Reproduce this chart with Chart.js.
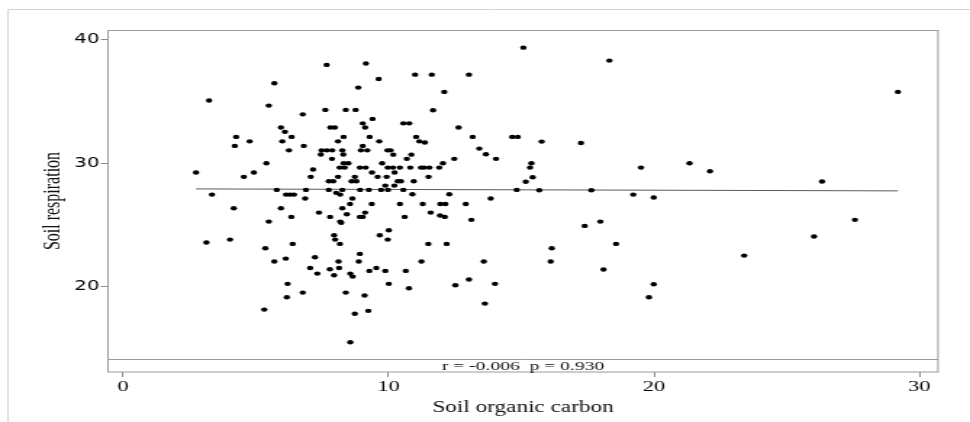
<!DOCTYPE html>
<html>
<head>
<meta charset="utf-8">
<script src="https://cdn.jsdelivr.net/npm/chart.js@4/dist/chart.umd.min.js"></script>
<style>
  html, body { margin: 0; padding: 0; background: #fff; overflow: hidden; }
  #wrap { position: absolute; left: 0; top: 0; width: 669px; height: 422px;
          transform: scaleX(1.45); transform-origin: 0 0; }
</style>
</head>
<body>
<div id="wrap"><canvas id="c" width="669" height="422"></canvas></div>
<script>
// ---- data ----
const socX = [
  7.67, 5.70, 3.24, 8.86, 5.49, 7.62, 8.39, 8.76, 6.77, 5.95, 6.10, 7.81, 7.98, 8.31, 4.26, 4.21,
  4.77, 6.00, 6.35, 8.10, 6.81, 6.25, 7.48, 7.67, 7.88, 8.26, 8.96, 7.45, 8.30, 7.87, 5.40, 8.31,
  8.49, 8.16, 8.35, 8.92, 2.75, 4.93, 7.16, 4.55, 7.07, 8.10, 8.73, 7.75, 7.92, 8.61, 8.79, 5.79,
  6.89, 7.75, 8.26, 8.93, 3.35, 6.14, 6.29, 6.44, 8.03, 8.18, 6.86, 8.64, 8.55, 4.17, 5.95, 8.26,
  7.38, 8.43, 6.34, 7.80, 8.92, 5.49, 8.18, 8.22, 7.95, 7.99, 8.17, 3.14, 4.03, 5.36, 6.39, 8.92,
  5.70, 6.13, 7.23, 8.12, 8.88, 7.05, 7.32, 7.79, 8.14, 7.95, 8.56, 8.65, 6.20, 6.77, 6.17, 8.39,
  5.32, 8.73, 8.56,
  9.15, 9.63, 11.00, 11.63, 13.03, 12.10, 11.68, 9.40, 9.03, 9.12, 10.56, 10.78, 12.64, 9.29, 13.17, 11.04,
  9.65, 11.16, 11.37, 9.03, 9.20, 9.96, 10.08, 10.18, 10.86, 10.69, 12.48, 12.05, 9.76, 9.14, 9.97, 10.17,
  10.43, 10.82, 11.22, 11.34, 11.54, 11.91, 9.38, 9.59, 9.93, 10.23, 11.51, 10.35, 10.47, 10.95, 9.88, 10.22,
  9.26, 9.72, 9.98, 10.56, 14.83, 10.90, 12.29, 13.85, 9.37, 10.43, 11.29, 11.95, 12.14, 12.91, 13.42, 13.67,
  14.05, 14.66, 14.87,
  9.12, 9.03, 10.61, 11.59, 11.94, 12.12, 13.12, 9.67, 10.01, 9.97, 11.50, 12.19, 11.24, 13.59, 9.28, 9.54,
  9.88, 10.65, 10.01, 10.77, 12.52, 13.03, 14.01, 13.63, 9.10, 9.24,
  15.08, 18.32, 29.19, 15.77, 17.25, 15.38, 15.33, 15.43, 15.17, 15.68, 17.64, 19.51, 21.34, 22.11, 26.33, 19.22,
  19.99, 17.39, 17.98, 18.57, 16.15, 16.11, 18.10, 19.99, 19.81, 23.40, 26.03, 27.57
];
const respY = [
  37.98, 36.49, 35.09, 36.14, 34.68, 34.33, 34.33, 34.33, 33.97, 32.90, 32.55, 32.90, 32.90, 32.14, 32.14, 31.41,
  31.78, 31.78, 32.14, 31.78, 31.41, 31.05, 31.05, 31.05, 31.05, 31.05, 31.05, 30.71, 30.71, 30.36, 30.00, 30.00,
  30.00, 29.65, 29.65, 29.65, 29.25, 29.25, 29.49, 28.90, 28.90, 28.90, 28.90, 28.54, 28.54, 28.54, 28.54, 27.84,
  27.84, 27.84, 27.84, 27.84, 27.46, 27.46, 27.46, 27.46, 27.60, 27.46, 27.14, 27.14, 26.70, 26.35, 26.35, 26.35,
  26.00, 25.86, 25.65, 25.65, 25.65, 25.27, 25.27, 25.17, 24.16, 23.81, 23.46, 23.57, 23.81, 23.11, 23.46, 22.65,
  22.03, 22.27, 22.38, 22.03, 22.03, 21.51, 21.05, 21.40, 21.51, 20.92, 21.05, 20.81, 20.22, 19.51, 19.13, 19.51,
  18.13, 17.79, 15.48,
  38.09, 36.84, 37.19, 37.19, 37.19, 35.79, 34.30, 33.60, 33.24, 32.90, 33.24, 33.24, 32.90, 32.14, 32.14, 32.14,
  31.78, 31.78, 31.68, 31.41, 31.05, 31.05, 31.05, 30.70, 30.70, 30.36, 30.36, 30.00, 30.00, 29.65, 29.65, 29.65,
  29.65, 29.65, 29.65, 29.65, 29.65, 29.65, 29.25, 28.90, 28.90, 29.25, 28.90, 28.54, 28.54, 28.54, 28.19, 28.19,
  27.84, 27.84, 27.84, 27.84, 27.84, 27.49, 27.49, 27.14, 26.70, 26.70, 26.70, 26.70, 26.70, 26.70, 31.19, 30.73,
  30.36, 32.14, 32.14,
  26.00, 25.65, 25.65, 26.00, 25.76, 25.65, 25.41, 24.16, 24.57, 23.81, 23.46, 23.46, 22.03, 22.03, 21.27, 21.51,
  21.27, 21.27, 20.22, 19.86, 20.11, 20.57, 20.22, 18.62, 19.27, 18.03,
  39.38, 38.33, 35.79, 31.76, 31.65, 30.00, 29.65, 28.87, 28.50, 27.81, 27.81, 29.65, 30.00, 29.35, 28.52, 27.46,
  27.22, 24.92, 25.27, 23.46, 23.11, 22.03, 21.38, 20.19, 19.13, 22.51, 24.06, 25.41
];
const fitX = [2.75, 29.19];
const fitY = [27.92, 27.76];
const xTickValues = [0, 10, 20, 30];
const yTickValues = [20, 30, 40];
const xTitle = 'Soil organic carbon';
const yTitle = 'Soil respiration';
const statText = 'r = -0.006  p = 0.930';

// ---- drawing ----
const framePlugin = {
  id: 'frame',
  afterDraw(chart) {
    const {ctx, chartArea: a} = chart;
    ctx.save();
    // outer light border (left & top)
    ctx.strokeStyle = '#d4d4d4';
    ctx.lineWidth = 1;
    ctx.beginPath();
    ctx.moveTo(5.5, 422); ctx.lineTo(5.5, 9.5); ctx.lineTo(669, 9.5);
    ctx.stroke();
    // plot frame
    ctx.strokeStyle = '#9a9a9a';
    ctx.strokeRect(a.left, a.top + 0.5, a.right - a.left, a.bottom - a.top - 0.5);
    // stats band
    const bandY = a.bottom - 13;
    ctx.beginPath();
    ctx.moveTo(a.left, bandY + 0.5); ctx.lineTo(a.right, bandY + 0.5);
    ctx.stroke();
    ctx.fillStyle = '#111';
    ctx.font = '13.5px "Liberation Serif"';
    ctx.textAlign = 'center';
    ctx.textBaseline = 'middle';
    ctx.fillText(statText, (a.left + a.right) / 2, bandY + 7);
    ctx.restore();
  }
};

new Chart(document.getElementById('c'), {
  data: {
    datasets: [
      {
        type: 'scatter',
        data: socX.map((x, i) => ({x: x, y: respY[i]})),
        pointRadius: 2.2,
        pointHoverRadius: 2.2,
        pointBackgroundColor: '#000',
        pointBorderWidth: 0,
        order: 1
      },
      {
        type: 'line',
        data: fitX.map((x, i) => ({x: x, y: fitY[i]})),
        borderColor: '#5a5a5a',
        borderWidth: 1,
        pointRadius: 0,
        fill: false,
        order: 2
      }
    ]
  },
  options: {
    responsive: false,
    animation: false,
    devicePixelRatio: 1,
    layout: { padding: { left: 0, right: 22.1, top: 30, bottom: 0 } },
    plugins: { legend: { display: false }, tooltip: { enabled: false } },
    scales: {
      x: {
        type: 'linear',
        position: 'bottom',
        min: -0.565,
        max: 30.70,
        afterBuildTicks: s => { s.ticks = xTickValues.map(v => ({value: v})); },
        afterFit: s => { s.height = 50; },
        border: { display: false },
        grid: { display: true, drawOnChartArea: false, drawTicks: true, tickLength: 5, color: '#8a8a8a' },
        ticks: { font: { family: 'Liberation Serif', size: 15.5 }, color: '#000', padding: 1, maxRotation: 0, autoSkip: false },
        title: { display: true, text: xTitle, font: { family: 'Liberation Serif', size: 16 }, color: '#111', padding: { top: 0, bottom: 4.4 } }
      },
      y: {
        type: 'linear',
        position: 'left',
        min: 13.07,
        max: 40.81,
        afterBuildTicks: s => { s.ticks = yTickValues.map(v => ({value: v})); },
        afterFit: s => { s.width = 74.5; },
        border: { display: false },
        grid: { display: true, drawOnChartArea: false, drawTicks: true, tickLength: 5, color: '#8a8a8a' },
        ticks: { font: { family: 'DejaVu Sans', size: 13.5 }, color: '#000', padding: 1 },
        title: { display: true, text: yTitle, font: { family: 'Liberation Serif', size: 16 }, color: '#111', padding: { top: 27.6, bottom: 0 } }
      }
    }
  },
  plugins: [framePlugin]
});
</script>
</body>
</html>
